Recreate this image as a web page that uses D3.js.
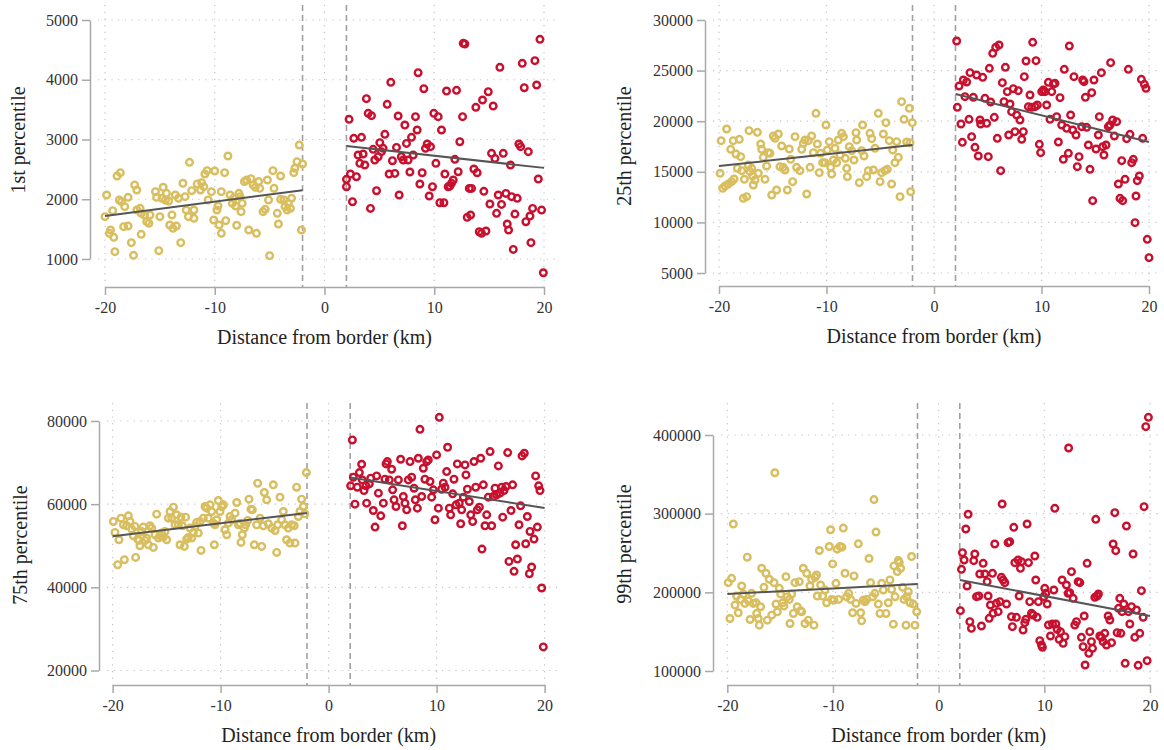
<!DOCTYPE html>
<html>
<head>
<meta charset="utf-8">
<script src="https://cdn.jsdelivr.net/npm/d3@7"></script>
<style>
    body { margin: 0; background: #fff; }
    svg { display: block; }
    text { font-family: "Liberation Serif", "Times New Roman", serif; }
</style>
</head>
<body>
<div id="chart"></div>
<script>

// x ticks shared by all four panels
const xTicks = [-20, -10, 0, 10, 20];
const cutoffs = [-2, 2];

// ---------- 1st percentile ----------
const p1Ticks = [1000, 2000, 3000, 4000, 5000];
const p1Left = [[-19.85,2071],[-20,1709],[-19.3,1809],[-19.5,1485],[-19.6,1430],[-19.2,1363],[-19.1,1123],[-18.9,2389],[-18.6,2445],[-18.7,1988],[-18.5,1960],[-18.2,1876],[-17.9,2032],[-18.3,1541],[-17.9,1552],[-17.6,1273],[-17.4,1061],[-17.3,2239],[-17.1,2155],[-17.1,1820],[-16.8,1848],[-16.7,1764],[-16.7,1413],[-16.4,1737],[-16.2,1625],[-16.0,1597],[-15.9,1737],[-15.4,2127],[-15.3,2032],[-15.1,1140],[-15.0,1709],[-14.7,2200],[-14.8,2016],[-14.5,1988],[-14.4,2099],[-14.2,1971],[-14.1,1569],[-13.9,1737],[-13.8,1513],[-13.6,2071],[-13.5,1552],[-13.3,2016],[-13.1,1273],[-12.9,2267],[-12.7,2043],[-12.6,1820],[-12.4,1709],[-12.3,2618],[-12.1,2144],[-11.9,1820],[-11.9,1681],[-11.6,2256],[-11.3,2155],[-11.2,2278],[-11.0,2211],[-10.9,2423],[-10.7,2479],[-10.6,1988],[-10.3,2127],[-10.1,1653],[-10.0,2473],[-9.8,1820],[-9.7,1887],[-9.6,1569],[-9.4,2127],[-9.4,1430],[-9.1,2445],[-9.0,1642],[-8.8,2724],[-8.6,2071],[-8.4,1932],[-8.3,2016],[-8.1,1887],[-8.0,1564],[-7.8,2099],[-7.7,2043],[-7.6,1792],[-7.5,1932],[-7.3,2295],[-7.1,2322],[-6.9,1485],[-6.7,2345],[-6.5,2239],[-6.3,2200],[-6.2,1430],[-6.0,2295],[-5.9,2183],[-5.6,1792],[-5.4,1831],[-5.2,2322],[-5.1,1988],[-5.0,1056],[-4.7,2479],[-4.6,2183],[-4.3,1764],[-4.2,1586],[-4.0,2389],[-4.0,1999],[-3.7,1988],[-3.6,1876],[-3.4,1820],[-3.3,1932],[-3.1,1848],[-3.0,2016],[-2.8,2445],[-2.7,2518],[-2.5,2629],[-2.3,2908],[-2.1,1485],[-2.0,2590]];
const p1Right = [[2.24,3337],[2.0,2333],[2.0,2210],[2.36,2422],[2.55,1959],[2.67,3019],[2.91,2377],[3.06,2740],[3.37,3036],[3.22,2601],[3.52,2757],[3.67,2573],[3.82,3683],[3.98,3438],[4.19,1847],[4.28,3399],[4.43,2835],[4.58,2656],[4.74,2143],[4.89,2712],[5.04,2947],[5.19,2796],[5.34,2852],[5.5,3086],[5.71,3588],[5.89,2422],[6.04,3957],[6.19,2645],[6.41,2433],[6.56,2868],[6.71,3393],[6.8,2071],[7.0,2712],[7.17,2656],[7.32,3242],[7.47,2935],[7.62,2656],[7.78,2456],[7.93,3036],[8.08,2740],[8.29,3382],[8.44,3159],[8.53,4118],[8.69,2255],[8.9,2444],[9.05,3850],[9.2,2852],[9.36,2924],[9.54,2054],[9.66,2880],[9.84,2210],[9.96,3438],[10.15,2601],[10.36,3382],[10.51,1942],[10.66,3159],[10.88,1942],[10.97,2422],[11.12,3811],[11.27,2210],[11.42,2221],[11.57,2266],[11.73,2322],[11.88,2668],[12.03,3823],[12.18,2461],[12.33,2963],[12.58,3382],[12.64,4609],[12.79,4598],[13.0,1697],[13.19,2182],[13.31,1736],[13.4,2182],[13.61,2506],[13.79,3538],[13.91,2444],[14.1,1457],[14.31,1429],[14.4,3661],[14.52,2132],[14.71,1468],[14.92,3800],[15.07,1920],[15.22,2768],[15.37,3560],[15.53,2684],[15.68,1764],[15.83,2071],[15.98,4208],[16.13,1914],[16.29,2768],[16.53,2098],[16.65,1585],[16.77,1485],[16.95,2573],[17.05,2043],[17.2,1161],[17.35,1752],[17.56,2015],[17.71,2924],[17.87,2880],[18.02,4275],[18.2,3867],[18.35,1624],[18.57,2796],[18.72,1719],[18.81,1273],[18.96,1847],[19.17,4319],[19.33,3912],[19.48,2338],[19.63,4676],[19.78,1819],[19.94,770]];
const p1FitLeft = [[-20, 1720], [-2, 2150]];
const p1FitRight = [[2, 2890], [20, 2525]];

// ---------- 25th percentile ----------
const p2Ticks = [5000, 10000, 15000, 20000, 25000, 30000];
const p2Left = [[-19.8,18076],[-19.9,14848],[-19.66,13365],[-19.44,13596],[-19.29,19229],[-19.13,13794],[-18.91,17220],[-18.82,14024],[-18.67,18076],[-18.6,14288],[-18.42,16758],[-18.29,15342],[-18.11,18208],[-17.98,16495],[-17.89,15111],[-17.74,12377],[-17.64,14255],[-17.43,12542],[-17.27,15671],[-17.21,19064],[-17.12,15013],[-16.96,15342],[-16.87,14584],[-16.81,13695],[-16.65,14189],[-16.43,18899],[-16.34,14848],[-16.12,17747],[-16.03,17220],[-15.88,16429],[-15.72,14255],[-15.57,15573],[-15.41,16890],[-15.26,16824],[-15.1,12707],[-14.95,18537],[-14.79,18307],[-14.64,13201],[-14.48,18735],[-14.33,15507],[-14.17,17549],[-14.02,15441],[-13.86,15177],[-13.64,13201],[-13.46,17253],[-13.33,16231],[-13.15,14024],[-12.93,18471],[-12.78,15441],[-12.47,15111],[-12.31,17220],[-12.16,17812],[-12.0,18142],[-11.84,12806],[-11.69,18076],[-11.53,15441],[-11.38,18537],[-11.22,16890],[-10.98,20777],[-10.85,17747],[-10.67,14914],[-10.54,16824],[-10.36,15902],[-10.14,15902],[-10.05,19624],[-9.92,17154],[-9.74,17977],[-9.61,15441],[-9.52,14782],[-9.36,16165],[-9.21,17318],[-9.05,15902],[-8.9,18142],[-8.74,16659],[-8.59,18801],[-8.43,18471],[-8.25,16330],[-8.12,15342],[-8.06,14518],[-7.88,17483],[-7.66,17088],[-7.44,16165],[-7.26,18866],[-7.19,18142],[-6.95,13925],[-6.73,17088],[-6.64,19624],[-6.51,16561],[-6.26,14518],[-6.11,15111],[-5.95,18801],[-5.8,18274],[-5.64,15177],[-5.49,17318],[-5.18,20777],[-5.02,14024],[-4.87,14914],[-4.71,18735],[-4.56,15111],[-4.47,19855],[-4.34,15243],[-4.16,18076],[-3.94,13794],[-3.84,17154],[-3.63,15902],[-3.47,17977],[-3.32,16429],[-3.16,12542],[-3.01,21930],[-2.79,20184],[-2.54,17944],[-2.29,21271],[-2.17,13036],[-2.02,19855],[-2.23,17878]];
const p2Right = [[2.11,27925],[2.33,23478],[2.17,21370],[2.51,19723],[2.64,17911],[2.73,24071],[2.88,22424],[3.04,23873],[3.26,20184],[3.35,24796],[3.5,18471],[3.66,22358],[3.81,17417],[3.97,24565],[4.12,16561],[4.28,20118],[4.34,19723],[4.53,24334],[4.74,22259],[4.9,19789],[5.05,16495],[5.15,25224],[5.27,21897],[5.46,26706],[5.61,20382],[5.74,27299],[5.89,18306],[6.05,27530],[6.2,15111],[6.36,23807],[6.51,21930],[6.64,25322],[6.82,22918],[6.95,18636],[7.07,21699],[7.22,20942],[7.38,23214],[7.53,18965],[7.69,20612],[7.84,23017],[8.0,20118],[8.16,18207],[8.31,18965],[8.4,24400],[8.56,25948],[8.78,21436],[8.93,22589],[9.09,21370],[9.18,27793],[9.4,21436],[9.49,25981],[9.61,21600],[9.8,17713],[9.92,16890],[10.02,22918],[10.17,23083],[10.33,22918],[10.48,21600],[10.64,23840],[10.79,20184],[10.95,22918],[11.1,23675],[11.26,23741],[11.41,20447],[11.57,17944],[11.72,22325],[11.88,19624],[12.03,16231],[12.12,25125],[12.34,19295],[12.5,16824],[12.59,27431],[12.71,20612],[12.9,19130],[13.02,24400],[13.21,18636],[13.33,15506],[13.49,16495],[13.74,19459],[13.83,24071],[13.95,23906],[14.08,22358],[14.2,19393],[14.36,17648],[14.51,15243],[14.67,22819],[14.76,12147],[14.88,24071],[15.07,17252],[15.29,18636],[15.38,20447],[15.57,24796],[15.69,17483],[15.81,16659],[16.0,17648],[16.22,19459],[16.37,19624],[16.43,25784],[16.62,20118],[16.78,18537],[16.99,19953],[17.15,13794],[17.3,12377],[17.46,16099],[17.55,12147],[17.77,14255],[17.92,18273],[18.08,25125],[18.23,18702],[18.39,15902],[18.54,16231],[18.7,9972],[18.79,12607],[18.91,14123],[19.1,14584],[19.29,24137],[19.41,18306],[19.57,23643],[19.72,23247],[19.84,8326],[20.0,6514]];
const p2FitLeft = [[-20, 15570], [-2, 17650]];
const p2FitRight = [[2, 22690], [20, 17950]];

// ---------- 75th percentile ----------
const p3Ticks = [20000, 40000, 60000, 80000];
const p3Left = [[-19.93,55840],[-19.78,53200],[-19.53,45440],[-19.41,51440],[-19.22,56640],[-19.0,55040],[-18.91,46640],[-18.7,54800],[-18.54,57200],[-18.39,55840],[-18.23,54000],[-18.08,52400],[-17.93,54640],[-17.87,47200],[-17.68,51600],[-17.56,51280],[-17.47,50000],[-17.31,53440],[-17.16,54480],[-17.0,51280],[-16.85,51840],[-16.69,50240],[-16.54,54800],[-16.38,54240],[-16.23,49600],[-16.07,52640],[-15.92,57600],[-15.76,51840],[-15.61,52400],[-15.46,53040],[-15.3,52080],[-15.15,53440],[-14.99,51440],[-14.84,56640],[-14.68,58240],[-14.53,56640],[-14.37,59280],[-14.22,55040],[-14.06,57440],[-13.91,55040],[-13.76,50240],[-13.67,56880],[-13.54,54800],[-13.36,49840],[-13.24,56880],[-13.14,51600],[-12.99,52000],[-12.83,54240],[-12.68,51840],[-12.52,53200],[-12.37,54640],[-12.22,55600],[-12.06,53040],[-11.91,55840],[-11.81,48880],[-11.6,56640],[-11.44,59440],[-11.29,59040],[-11.14,56640],[-10.98,59840],[-10.83,58240],[-10.67,55440],[-10.58,50240],[-10.52,55040],[-10.36,56240],[-10.21,60880],[-10.05,58240],[-9.9,59440],[-9.74,59840],[-9.59,53840],[-9.43,52640],[-9.28,55440],[-9.13,57040],[-8.97,56240],[-8.66,57840],[-8.51,60400],[-8.35,55040],[-8.2,55440],[-8.11,50800],[-7.99,52640],[-7.8,54240],[-7.68,55040],[-7.49,56080],[-7.37,61200],[-7.19,58800],[-7.06,58640],[-6.88,50240],[-6.66,55040],[-6.57,65040],[-6.35,56640],[-6.2,49840],[-6.04,54800],[-5.95,62800],[-5.73,61040],[-5.58,55280],[-5.27,54240],[-5.12,64640],[-4.96,53680],[-4.81,48400],[-4.72,55040],[-4.5,61680],[-4.35,56240],[-4.19,58240],[-4.04,55040],[-3.89,51440],[-3.73,54240],[-3.58,50640],[-3.42,55040],[-3.18,54800],[-3.11,50640],[-2.96,64080],[-2.8,57040],[-2.65,58240],[-2.5,61200],[-2.34,59440],[-2.19,57680],[-2.06,67600]];
const p3Right = [[2.04,64400],[2.2,75440],[2.29,66480],[2.44,60000],[2.66,64080],[2.85,67600],[3.06,69600],[3.12,65840],[3.28,63280],[3.46,64400],[3.52,60240],[3.77,64880],[3.9,66240],[4.14,58480],[4.3,54480],[4.45,66800],[4.61,62640],[4.83,57200],[5.07,60240],[5.22,66000],[5.32,69680],[5.44,70240],[5.62,65840],[5.84,68400],[5.93,63440],[6.06,61040],[6.24,59440],[6.46,65840],[6.67,70800],[6.83,54800],[6.92,61840],[7.07,60240],[7.23,58640],[7.38,65840],[7.54,70240],[7.69,66480],[7.91,63840],[8.03,61040],[8.22,59040],[8.31,71040],[8.46,78000],[8.62,61840],[8.77,68640],[8.92,66000],[9.08,70240],[9.23,70640],[9.39,65440],[9.54,61680],[9.7,63440],[9.85,56240],[10.0,71840],[10.16,59040],[10.25,80880],[10.47,63600],[10.62,65040],[10.78,64080],[10.93,67840],[11.02,73680],[11.18,59040],[11.3,57440],[11.49,62480],[11.61,66000],[11.8,59840],[11.92,69680],[12.1,60240],[12.23,55280],[12.32,58640],[12.48,61680],[12.63,69440],[12.72,67040],[12.85,63600],[13.03,60640],[13.16,57440],[13.34,55840],[13.46,70240],[13.62,64080],[13.77,58640],[13.96,59280],[14.08,71040],[14.2,49200],[14.33,64640],[14.48,54800],[14.64,57440],[14.79,61680],[14.95,72640],[15.1,54800],[15.25,61840],[15.41,63840],[15.56,62240],[15.72,69200],[15.87,62640],[16.03,64080],[16.12,56880],[16.24,63280],[16.43,64240],[16.58,72400],[16.7,46240],[16.89,58480],[17.04,64640],[17.17,43840],[17.32,50240],[17.48,46800],[17.63,55040],[17.78,59600],[17.91,71600],[18.12,72240],[18.25,50480],[18.4,57040],[18.59,43280],[18.65,53440],[18.8,44880],[19.02,51600],[19.17,66800],[19.33,54480],[19.45,64400],[19.57,63280],[19.73,39840],[19.88,25680]];
const p3FitLeft = [[-20, 52300], [-2, 57900]];
const p3FitRight = [[2, 66400], [20, 59100]];

// ---------- 99th percentile ----------
const p4Ticks = [100000, 200000, 300000, 400000];
const p4Left = [[-19.91,212300],[-19.75,166750],[-19.59,217830],[-19.43,286800],[-19.27,183780],[-19.12,195280],[-18.96,173990],[-18.74,191020],[-18.64,208050],[-18.49,197830],[-18.33,185910],[-18.11,244650],[-18.01,189310],[-17.85,165470],[-17.7,198680],[-17.54,185910],[-17.29,186760],[-17.22,173140],[-17.07,166750],[-16.97,158240],[-16.85,181650],[-16.75,230600],[-16.53,206340],[-16.34,224220],[-16.21,164620],[-16.03,216560],[-15.8,171010],[-15.58,212300],[-15.39,185060],[-15.27,175270],[-15.08,205070],[-14.95,197830],[-14.76,186760],[-14.64,182500],[-14.45,219960],[-14.32,194430],[-14.13,191020],[-14.07,160370],[-13.91,197830],[-13.75,173140],[-13.6,212300],[-13.38,181650],[-13.19,213570],[-13.06,176540],[-12.97,175270],[-12.81,230600],[-12.65,160370],[-12.49,224220],[-12.33,164620],[-12.18,208050],[-12.02,216560],[-11.8,158240],[-11.7,219120],[-11.55,222090],[-11.48,195280],[-11.29,253170],[-11.17,209320],[-10.98,195280],[-10.76,202940],[-10.6,186760],[-10.35,258280],[-10.22,279560],[-10.13,191020],[-10.03,236140],[-9.91,190170],[-9.72,211450],[-9.59,254870],[-9.46,191020],[-9.34,258280],[-9.15,257430],[-9.02,281690],[-8.86,224220],[-8.71,194430],[-8.52,198680],[-8.33,191020],[-8.14,173990],[-8.01,220810],[-7.82,185910],[-7.6,261680],[-7.38,173990],[-7.29,163770],[-7.13,190170],[-6.97,188040],[-6.81,191020],[-6.59,242950],[-6.44,212300],[-6.25,194430],[-6.12,317870],[-6.03,198680],[-5.93,276580],[-5.71,185060],[-5.55,173140],[-5.39,211450],[-5.24,202940],[-4.98,173140],[-4.76,186760],[-4.61,215710],[-4.45,203790],[-4.29,159520],[-4.23,233590],[-4.13,194430],[-3.91,226350],[-3.82,240400],[-3.72,237840],[-3.6,230600],[-3.41,206340],[-3.28,191020],[-3.09,158240],[-3.03,194430],[-2.87,200810],[-2.71,186760],[-2.56,245500],[-2.4,185060],[-2.24,158240],[-2.08,175270],[-15.5,352000]];
const p4Right = [[2.06,176710],[2.16,229250],[2.25,250440],[2.41,241110],[2.57,280520],[2.69,208070],[2.79,299190],[2.95,162730],[3.1,154260],[3.32,240270],[3.42,248740],[3.58,194510],[3.8,195360],[3.89,223320],[4.05,157230],[4.21,236880],[4.37,223320],[4.59,213570],[4.68,195360],[4.78,166970],[4.9,183920],[5.09,224170],[5.15,173320],[5.31,261450],[5.47,186030],[5.63,175440],[5.79,188150],[5.94,219080],[6.01,312300],[6.1,215690],[6.26,212300],[6.42,185190],[6.57,263150],[6.73,264420],[6.89,169090],[6.98,156380],[7.11,282640],[7.21,237730],[7.36,168240],[7.52,241110],[7.62,195360],[7.74,230520],[7.84,238990],[7.99,152140],[8.15,161460],[8.25,165700],[8.37,286880],[8.5,237730],[8.62,188150],[8.78,173320],[8.94,171200],[9.1,246200],[9.19,215690],[9.32,168240],[9.44,188150],[9.57,138580],[9.73,133070],[9.82,130110],[9.95,194510],[10.04,205100],[10.14,198750],[10.27,185190],[10.39,158500],[10.58,144520],[10.77,159770],[10.9,202980],[10.99,306790],[11.09,159770],[11.21,152990],[11.4,140280],[11.53,150030],[11.68,215690],[11.78,135190],[11.94,143670],[12.09,209340],[12.25,198750],[12.41,199590],[12.57,226290],[12.73,192390],[12.88,158500],[13.04,162730],[13.2,213570],[13.36,212300],[13.51,142820],[13.67,130960],[13.77,169940],[13.86,107650],[14.05,236880],[14.21,122480],[14.3,150030],[14.46,137320],[14.56,128840],[14.78,193660],[14.87,292810],[15.0,195360],[15.12,197900],[15.25,144520],[15.41,142820],[15.56,137320],[15.72,147900],[15.88,133070],[16.04,169940],[16.2,164860],[16.36,136040],[16.51,261450],[16.67,301280],[16.76,252980],[16.89,148750],[17.02,179680],[17.14,192390],[17.24,147900],[17.36,175440],[17.52,185190],[17.65,109770],[17.77,284330],[17.96,175440],[18.09,159770],[18.25,181800],[18.4,248740],[18.56,142820],[18.72,177560],[18.88,107220],[19.03,147900],[19.19,202130],[19.35,168240],[19.44,308910],[19.6,410590],[19.73,113160],[19.85,422460],[12.3,383500]];
const p4FitLeft = [[-20, 197900], [-2, 210600]];
const p4FitRight = [[2, 215700], [20, 169900]];

const goldColor = "#d8be5e";
const redColor = "#c8102e";
const serif = '"Liberation Serif", "Times New Roman", serif';

// panel layout (pixels)
const panels = [
    { title: "1st percentile", ticks: p1Ticks, left: p1Left, right: p1Right, fitL: p1FitLeft, fitR: p1FitRight,
      axisX: 90, xRange: [105, 544], yRange: [259, 20], axisY: 287, top: 5, gridRight: 557, titleX: 18, titleY: 140 },
    { title: "25th percentile", ticks: p2Ticks, left: p2Left, right: p2Right, fitL: p2FitLeft, fitR: p2FitRight,
      axisX: 705, xRange: [719, 1149], yRange: [273, 20], axisY: 286, top: 5, gridRight: 1160, titleX: 624, titleY: 146 },
    { title: "75th percentile", ticks: p3Ticks, left: p3Left, right: p3Right, fitL: p3FitLeft, fitR: p3FitRight,
      axisX: 99, xRange: [112.6, 544.6], yRange: [670.5, 421], axisY: 685, top: 403, gridRight: 557, titleX: 20, titleY: 545 },
    { title: "99th percentile", ticks: p4Ticks, left: p4Left, right: p4Right, fitL: p4FitLeft, fitR: p4FitRight,
      axisX: 713, xRange: [727.3, 1150], yRange: [671, 435], axisY: 685, top: 403, gridRight: 1160, titleX: 624, titleY: 544 }
];

const svg = d3.select("#chart").append("svg")
    .attr("width", 1164)
    .attr("height", 750);

panels.forEach(function(p){

    let g = svg.append("g");

    let x = d3.scaleLinear().domain([-20, 20]).range(p.xRange);
    let y = d3.scaleLinear().domain([d3.min(p.ticks), d3.max(p.ticks)]).range(p.yRange);

    // dotted grid
    g.selectAll(".hgrid")
        .data(p.ticks)
        .enter()
        .append("line")
        .attr("x1", p.axisX + 8)
        .attr("x2", p.gridRight)
        .attr("y1", d => y(d))
        .attr("y2", d => y(d))
        .attr("stroke", "#c4c4c4")
        .attr("stroke-width", 1.2)
        .attr("stroke-dasharray", "1.2,5.5");

    g.selectAll(".vgrid")
        .data(xTicks)
        .enter()
        .append("line")
        .attr("x1", d => x(d))
        .attr("x2", d => x(d))
        .attr("y1", p.top)
        .attr("y2", p.axisY)
        .attr("stroke", "#c4c4c4")
        .attr("stroke-width", 1.2)
        .attr("stroke-dasharray", "1.2,5.5");

    // cutoff lines
    g.selectAll(".cut")
        .data(cutoffs)
        .enter()
        .append("line")
        .attr("x1", d => x(d))
        .attr("x2", d => x(d))
        .attr("y1", p.top)
        .attr("y2", p.axisY)
        .attr("stroke", "#a0a0a0")
        .attr("stroke-width", 1.6)
        .attr("stroke-dasharray", "6,4");

    // axes
    let yAxis = d3.axisLeft(y)
        .tickValues(p.ticks)
        .tickSize(8)
        .tickSizeOuter(0)
        .tickPadding(4)
        .tickFormat(d => String(d));

    let xAxis = d3.axisBottom(x)
        .tickValues(xTicks)
        .tickSize(8)
        .tickSizeOuter(0)
        .tickPadding(7)
        .tickFormat(d => String(d));

    let ya = g.append("g")
        .attr("transform", `translate(${p.axisX},0)`)
        .call(yAxis);

    let xa = g.append("g")
        .attr("transform", `translate(0,${p.axisY})`)
        .call(xAxis);

    [ya, xa].forEach(function(a){
        a.attr("font-family", serif).attr("font-size", 16);
        a.select(".domain").attr("stroke", "#a8a8a8").attr("stroke-width", 1.5);
        a.selectAll(".tick line").attr("stroke", "#a8a8a8").attr("stroke-width", 1.5);
        a.selectAll(".tick text")
            .attr("fill", "#333")
            .attr("font-family", serif)
            .attr("font-size", 16);
    });

    // points
    g.selectAll(".ptL")
        .data(p.left)
        .enter()
        .append("circle")
        .attr("cx", d => x(d[0]))
        .attr("cy", d => y(d[1]))
        .attr("r", 3.3)
        .attr("fill", "none")
        .attr("stroke", goldColor)
        .attr("stroke-width", 2.4);

    g.selectAll(".ptR")
        .data(p.right)
        .enter()
        .append("circle")
        .attr("cx", d => x(d[0]))
        .attr("cy", d => y(d[1]))
        .attr("r", 3.3)
        .attr("fill", "none")
        .attr("stroke", redColor)
        .attr("stroke-width", 2.4);

    // fitted lines
    let line = d3.line().x(d => x(d[0])).y(d => y(d[1]));

    [p.fitL, p.fitR].forEach(function(f){
        g.append("path")
            .attr("d", line(f))
            .attr("fill", "none")
            .attr("stroke", "#555")
            .attr("stroke-width", 2);
    });

    // titles
    g.append("text")
        .attr("x", (p.xRange[0] + p.xRange[1]) / 2)
        .attr("y", p.axisY + 57)
        .attr("text-anchor", "middle")
        .attr("fill", "#222")
        .attr("font-family", serif)
        .attr("font-size", 20)
        .text("Distance from border (km)");

    g.append("text")
        .attr("transform", `translate(${p.titleX},${p.titleY}) rotate(-90)`)
        .attr("dy", "0.35em")
        .attr("text-anchor", "middle")
        .attr("fill", "#222")
        .attr("font-family", serif)
        .attr("font-size", 20)
        .text(p.title);
});

</script>
</body>
</html>
